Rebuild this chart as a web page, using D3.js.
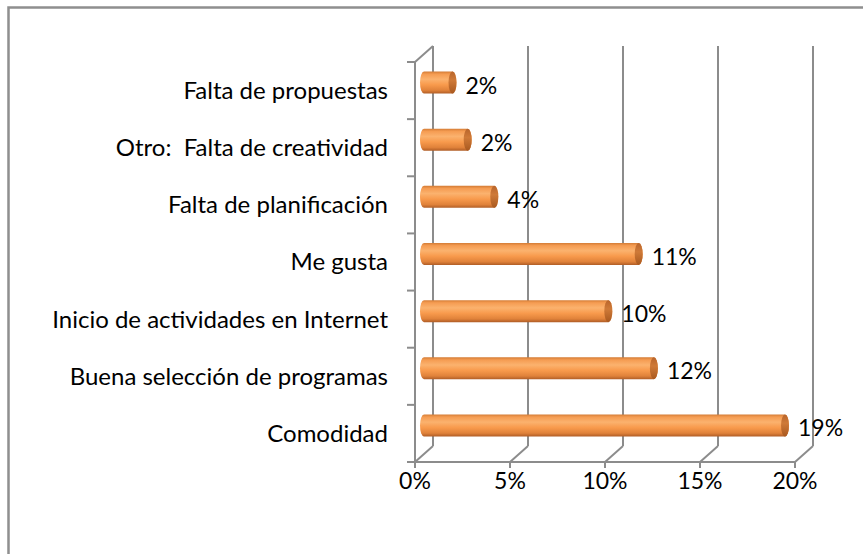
<!DOCTYPE html>
<html>
<meta charset="utf-8">
<head>
<style>
body { margin: 0; background: #fff; }
text { font-family: Lato, "Open Sans", sans-serif; fill: #000; white-space: pre; }
.grid line { stroke: #8c8c8c; stroke-width: 2px; }
</style>
</head>
<body>
<svg width="863" height="554"></svg>

<script src="https://cdn.jsdelivr.net/npm/d3@7/dist/d3.min.js"></script>

<script>

// categories, top to bottom as drawn
var categories = ["Falta de propuestas", "Otro:  Falta de creatividad", "Falta de planificación",
                  "Me gusta", "Inicio de actividades en Internet", "Buena selección de programas", "Comodidad"];
// percent values
var values = [1.5, 2.3, 3.7, 11.3, 9.7, 12.1, 19.0];
var xTicks = [0, 5, 10, 15, 20];

var svg = d3.select("svg");

// chart frame (runs off the right/bottom edge like the original)
svg.append("rect")
    .attr("x", 8.5).attr("y", 7.5)
    .attr("width", 900).attr("height", 600)
    .attr("fill", "none")
    .attr("stroke", "#8f8f8f")
    .attr("stroke-width", 2.5);

var defs = svg.append("defs");
var grad = defs.append("linearGradient")
    .attr("id", "cyl").attr("x1", 0).attr("y1", 0).attr("x2", 0).attr("y2", 1);
[[0, "#d47c35"], [0.12, "#f59c52"], [0.35, "#fbb26e"], [0.6, "#f89a4c"], [0.85, "#e0823a"], [1, "#b05d26"]]
  .forEach(function(s) { grad.append("stop").attr("offset", s[0]).attr("stop-color", s[1]); });

var cap = defs.append("linearGradient")
    .attr("id", "cap").attr("x1", 0).attr("y1", 0).attr("x2", 0).attr("y2", 1);
[[0, "#b8652c"], [0.4, "#cf7a38"], [1, "#a9591f"]]
  .forEach(function(s) { cap.append("stop").attr("offset", s[0]).attr("stop-color", s[1]); });

// front plane + depth offset
var dx = 18, dy = -16;
var x = d3.scaleLinear().domain([0, 20]).range([415, 795]);
var y = d3.scaleBand().domain(categories).range([62, 462]);

var g = svg.append("g").attr("class", "grid");

// back wall gridlines and floor diagonals
xTicks.forEach(function(t) {
  g.append("line")
      .attr("x1", x(t) + dx).attr("x2", x(t) + dx)
      .attr("y1", 62 + dy).attr("y2", 462 + dy);
  g.append("line")
      .attr("x1", x(t)).attr("y1", 462)
      .attr("x2", x(t) + dx).attr("y2", 462 + dy);
  g.append("line")
      .attr("x1", x(t)).attr("x2", x(t))
      .attr("y1", 462).attr("y2", 468);
});
// floor front edge
g.append("line").attr("x1", x(0)).attr("x2", x(20)).attr("y1", 462).attr("y2", 462);
// left wall
g.append("line").attr("x1", x(0)).attr("x2", x(0)).attr("y1", 62).attr("y2", 462);
g.append("line").attr("x1", x(0)).attr("y1", 62).attr("x2", x(0) + dx).attr("y2", 62 + dy);
// category ticks on the left
var edges = categories.map(function(c) { return y(c); }).concat([462]);
edges.forEach(function(e) {
  g.append("line").attr("x1", x(0) - 8).attr("x2", x(0)).attr("y1", e).attr("y2", e);
});

// category labels
svg.append("g").selectAll("text")
    .data(categories)
  .enter().append("text")
    .attr("x", 388)
    .attr("y", function(d) { return y(d) + y.bandwidth() / 2; })
    .attr("dy", "0.35em")
    .attr("text-anchor", "end")
    .style("font-size", "24px")
    .text(function(d) { return d; });

// x tick labels
svg.append("g").selectAll("text")
    .data(xTicks)
  .enter().append("text")
    .attr("x", function(d) { return x(d); })
    .attr("y", 481)
    .attr("dy", "0.35em")
    .attr("text-anchor", "middle")
    .style("font-size", "23px")
    .text(function(d) { return d + "%"; });

// cylinders, sitting half way into the depth
var rx = 4, ry = 11;
var bars = svg.append("g").selectAll("g")
    .data(values)
  .enter().append("g");

bars.append("path")
    .attr("fill", "url(#cyl)")
    .attr("d", function(v, i) {
      var x0 = x(0) + dx / 2, x1 = x(v) + dx / 2;
      var cy = y(categories[i]) + y.bandwidth() / 2 + dy / 2;
      return "M" + x0 + "," + (cy - ry) +
             "L" + x1 + "," + (cy - ry) +
             "A" + rx + "," + ry + " 0 0 1 " + x1 + "," + (cy + ry) +
             "L" + x0 + "," + (cy + ry) +
             "A" + rx + "," + ry + " 0 0 1 " + x0 + "," + (cy - ry) + "Z";
    });

bars.append("ellipse")
    .attr("fill", "url(#cap)")
    .attr("cx", function(v) { return x(v) + dx / 2; })
    .attr("cy", function(v, i) { return y(categories[i]) + y.bandwidth() / 2 + dy / 2; })
    .attr("rx", rx).attr("ry", ry);

// value labels
bars.append("text")
    .attr("x", function(v) { return x(v) + dx / 2 + rx + 9; })
    .attr("y", function(v, i) { return y(categories[i]) + y.bandwidth() / 2 + dy / 2 + 3; })
    .attr("dy", "0.35em")
    .style("font-size", "23px")
    .text(function(v) { return Math.round(v) + "%"; });

</script>
</body>
</html>
